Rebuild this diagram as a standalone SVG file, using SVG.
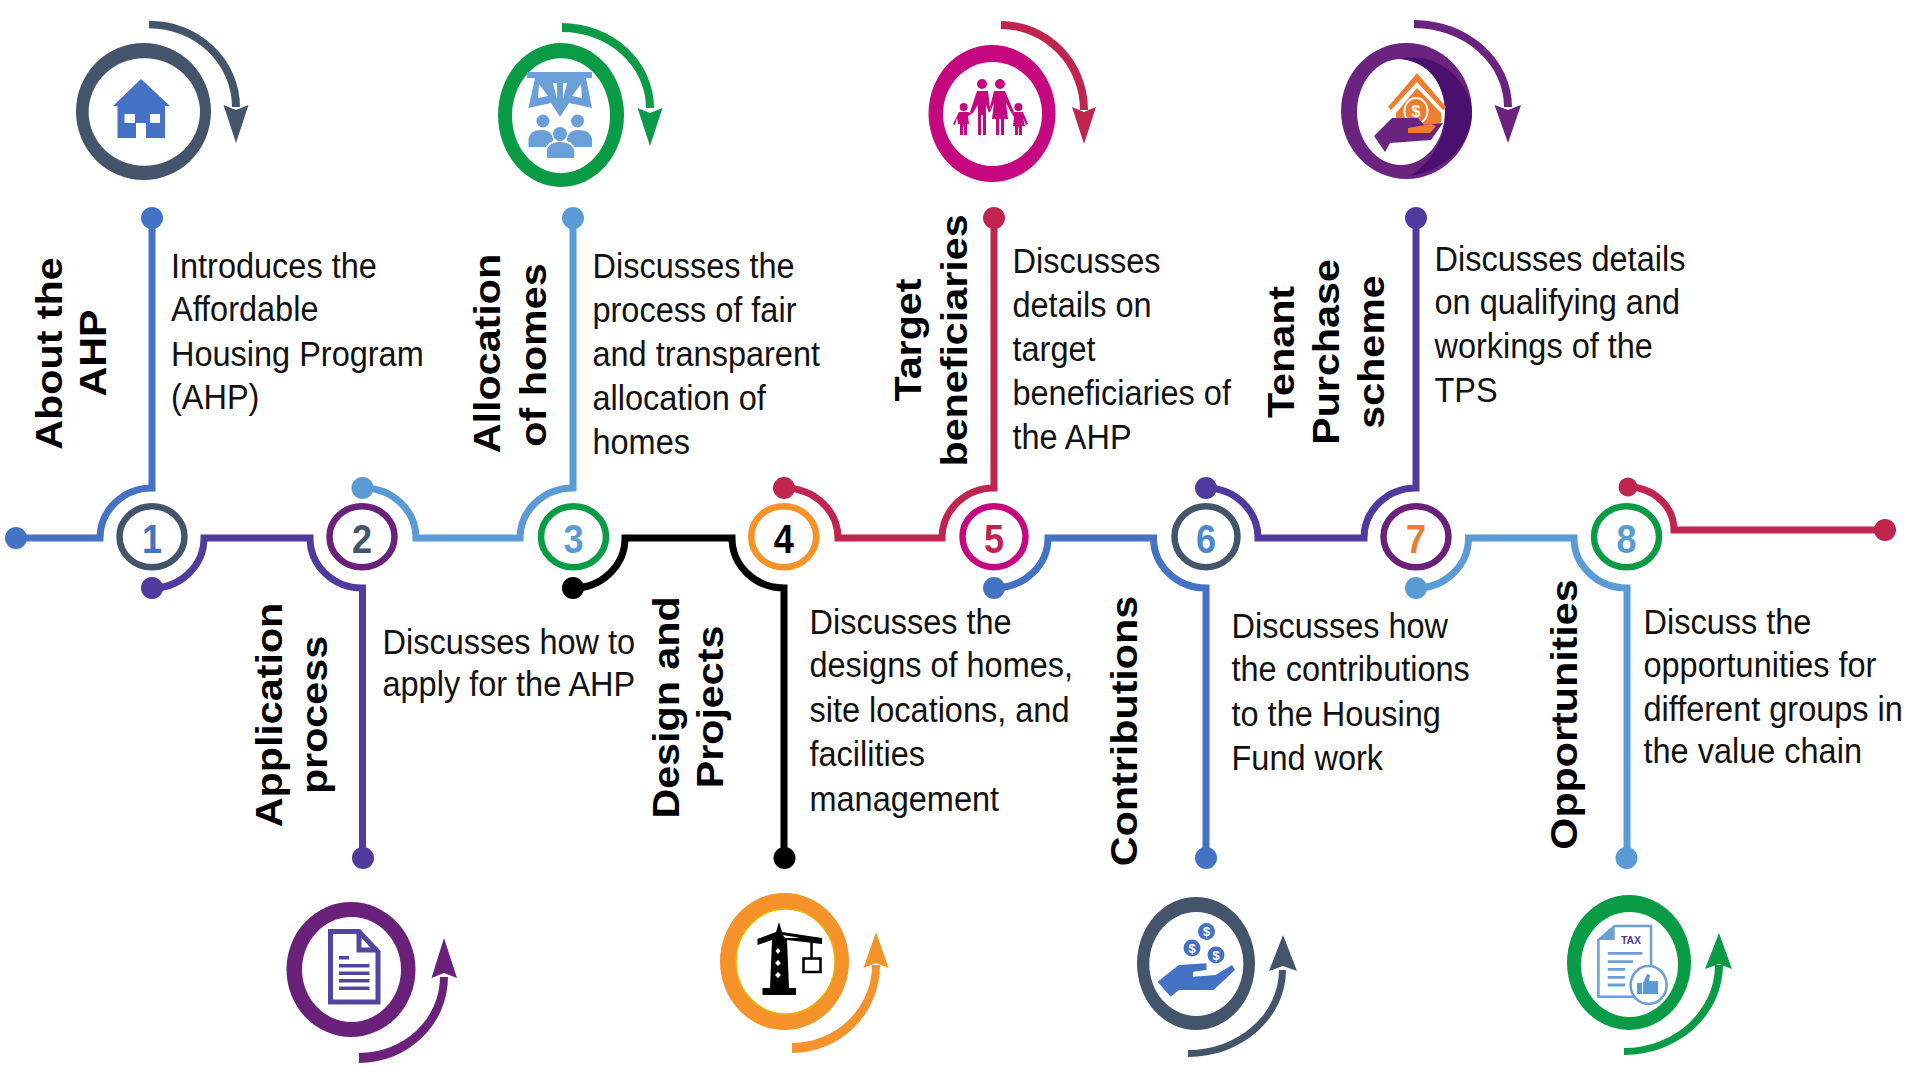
<svg xmlns="http://www.w3.org/2000/svg" width="1920" height="1080" viewBox="0 0 1920 1080">
<style>
.b{font-family:"Liberation Sans",Arial,sans-serif;font-size:35.5px;fill:#111}
.l{font-family:"Liberation Sans",Arial,sans-serif;font-size:37.5px;font-weight:700;fill:#000;text-anchor:middle}
.n{font-family:"Liberation Sans",Arial,sans-serif;font-size:40px;font-weight:700;text-anchor:middle}
.c{fill:none;stroke-width:7}
.sr{fill:#fff;stroke-width:6.5}
.w{fill:#fff}
.navy{fill:#44546a}.green{fill:#0a9b47}.mag{fill:#c5087f}.pur{fill:#6a2179}.org{fill:#f5922a}.cri{fill:#c0254f}
.blue{fill:#4472c4}.sky{fill:#6a9fd8}.ind{fill:#5246a3}
.coin{font-family:"Liberation Sans",Arial,sans-serif;font-size:13px;font-weight:700;fill:#fff;text-anchor:middle}
</style>
<rect width="1920" height="1080" fill="#fff"/>
<g id="connectors">
<g fill="#4472c4"><path class="c" stroke="#4472c4" d="M16,538H100A52,50 0 0 1 152,488V218"/><circle cx="16" cy="538" r="11"/><circle cx="152" cy="218" r="11"/></g>
<g fill="#4f3a9e"><path class="c" stroke="#4f3a9e" d="M152,588A52,50 0 0 0 204,538H310A52,50 0 0 0 362.500,588V858"/><circle cx="152" cy="588" r="11"/><circle cx="363" cy="858" r="11"/></g>
<g fill="#5b9bd5"><path class="c" stroke="#5b9bd5" d="M362.500,488A53,50 0 0 1 416,538H520A53,50 0 0 1 573,488V218"/><circle cx="362.500" cy="488" r="11"/><circle cx="573" cy="218" r="11"/></g>
<g fill="#000"><path class="c" stroke="#000" d="M573,588A52,50 0 0 0 625,538H732A52,50 0 0 0 784,588V858"/><circle cx="573" cy="588" r="11"/><circle cx="784.500" cy="858" r="11"/></g>
<g fill="#c0254f"><path class="c" stroke="#c0254f" d="M784,488A54,50 0 0 1 838,538H942A52,50 0 0 1 994,488V218"/><circle cx="784" cy="488" r="11"/><circle cx="994" cy="218" r="11"/></g>
<g fill="#4472c4"><path class="c" stroke="#4472c4" d="M994,588A54,50 0 0 0 1048,538H1153.500A52.500,50 0 0 0 1206,588V858"/><circle cx="994" cy="588" r="11"/><circle cx="1206" cy="858" r="11"/></g>
<g fill="#4f3a9e"><path class="c" stroke="#4f3a9e" d="M1206,488A52,50 0 0 1 1258,538H1364A52,50 0 0 1 1416,488V218"/><circle cx="1206" cy="488" r="11"/><circle cx="1416" cy="218" r="11"/></g>
<g fill="#5b9bd5"><path class="c" stroke="#5b9bd5" d="M1416,588A52.500,50 0 0 0 1468.500,538H1574A53,50 0 0 0 1627,588V858"/><circle cx="1416" cy="588" r="11"/><circle cx="1626.500" cy="858" r="11"/></g>
<g fill="#c0254f"><path class="c" stroke="#c0254f" d="M1628,487A46,43 0 0 1 1674,530H1885"/><circle cx="1628" cy="487" r="9.500"/><circle cx="1885" cy="530" r="11"/></g>
</g>

<g id="node1">
<ellipse class="navy" cx="143.500" cy="111.500" rx="67.500" ry="68.500"/><ellipse class="w" cx="144.300" cy="112" rx="55.700" ry="53.800"/>
<path class="blue" d="M141,79L170,106H165V138H146V123H136V138H117.500V106H113Z"/><rect class="w" x="124.500" y="114" width="10.500" height="9"/><rect class="w" x="150" y="114" width="10" height="9"/>
<path class="navy" d="M149,20.700A91,86.300 0 0 1 240,107H232A83,78.700 0 0 0 149,28.300ZM236,143L223.500,105L236,110L248.500,105Z"/>
<ellipse class="sr" stroke="#44546a" cx="152" cy="536.700" rx="32.500" ry="30.500"/><text class="n" fill="#4472c4" transform="translate(152 553) scale(.9 1)">1</text>
<text class="l" transform="translate(62 353.500) rotate(-90) scale(1.1 1)">About the</text><text class="l" transform="translate(106 353) rotate(-90) scale(1.1 1)">AHP</text>
<text class="b" transform="translate(171 277.500) scale(.915 1)"><tspan x="0" y="0">Introduces the</tspan><tspan x="0" y="44">Affordable</tspan><tspan x="0" y="88.500">Housing Program</tspan><tspan x="0" y="132">(AHP)</tspan></text>
</g>

<g id="node2">
<ellipse class="pur" cx="351" cy="969.500" rx="64.500" ry="67.500"/><ellipse class="w" cx="351.500" cy="969.500" rx="49.500" ry="52.500"/>
<path fill="none" stroke="#5246a3" stroke-width="5" d="M330.500,931.500H359L378,952V1002H330.500ZM359,931.500V950H378"/>
<path class="ind" d="M339,956h10v3.500h-10zM339,964h30.500v3.500h-30.500zM339,971.500h30.500v3.500h-30.500zM339,979h30.500v3.500h-30.500zM339,986.500h30.500v3.500h-30.500z"/>
<path class="pur" d="M359,1063A89,86 0 0 0 448,977H440A81,76 0 0 1 359,1053ZM444,938L431.500,978L444,973L457,978Z"/>
<ellipse class="sr" stroke="#6a2179" cx="362" cy="536.700" rx="32.500" ry="30.500"/><text class="n" fill="#44546a" transform="translate(362 553) scale(.9 1)">2</text>
<text class="l" transform="translate(281.500 715) rotate(-90) scale(1.1 1)">Application</text><text class="l" transform="translate(326.500 715) rotate(-90) scale(1.1 1)">process</text>
<text class="b" transform="translate(382.500 653.500) scale(.915 1)"><tspan x="0" y="0">Discusses how to</tspan><tspan x="0" y="42.500">apply for the AHP</tspan></text>
</g>

<g id="node3">
<ellipse class="green" cx="561" cy="115" rx="63" ry="72"/><ellipse class="w" cx="561" cy="115.700" rx="49" ry="57.500"/>
<path class="sky" d="M527,72H592V78H586L592,108L569,103L560,117L551,103L528.500,108L535,78H527Z"/>
<path class="w" d="M539,84L548,96L538,98ZM553,83L557,83L557,99ZM563,83L567,83L563,99ZM581,84L582,98L572,96Z"/>
<circle class="sky" cx="543" cy="121" r="6.500"/><circle class="sky" cx="577.500" cy="121" r="6.500"/>
<path class="sky" d="M528.500,147V139Q530,130 541,130Q552,130 553,139V147ZM567,147V139Q568,130 579,130Q590,130 592,139V147Z"/>
<path class="sky" stroke="#fff" stroke-width="2" d="M546,159V150Q548,141 560,141Q572,141 575,150V159Z"/><circle class="sky" cx="560" cy="134" r="7"/>
<path class="green" d="M562,23A92,85 0 0 1 654,108H646A84,76 0 0 0 562,32ZM650,146L637.500,108L650,113L662.500,108Z"/>
<ellipse class="sr" stroke="#0a9b47" cx="573.500" cy="536.700" rx="32.500" ry="30.500"/><text class="n" fill="#5b9bd5" transform="translate(573.500 553) scale(.9 1)">3</text>
<text class="l" transform="translate(499.500 353.500) rotate(-90) scale(1.1 1)">Allocation</text><text class="l" transform="translate(545.500 355) rotate(-90) scale(1.1 1)">of homes</text>
<text class="b" transform="translate(592.500 277.500) scale(.915 1)"><tspan x="0" y="0">Discusses the</tspan><tspan x="0" y="44.300">process of fair</tspan><tspan x="0" y="88.500">and transparent</tspan><tspan x="0" y="132.800">allocation of</tspan><tspan x="0" y="177">homes</tspan></text>
</g>

<g id="node4">
<ellipse class="org" cx="784.500" cy="961.500" rx="64.500" ry="68.500"/><ellipse fill="#fff" stroke="#e8b400" stroke-width="1.500" cx="785.500" cy="961.500" rx="49.500" ry="52.500"/>
<path fill="#000" d="M779,922L782,932L822,938V944L787,940L789,988H796V995H762.500V988H770L772,940L757.500,945V939L776,932Z"/>
<path class="w" d="M778,948l2.500,3l-2.500,3l-2.500,-3zM778,960l3,3l-3,3l-3,-3zM778,972l3,3l-3,3l-3,-3zM783,935L800,938L785,938Z"/>
<path stroke="#000" stroke-width="2.500" fill="none" d="M811.500,942V958M803.500,958.500H820.500V972H803.500Z"/>
<path class="org" d="M792,1053A88,88 0 0 0 880,965H872A80,78 0 0 1 792,1043ZM876,932L863.500,968L876,963L888.500,968Z"/>
<ellipse class="sr" stroke="#f5922a" cx="783.700" cy="536.700" rx="32.500" ry="30.500"/><text class="n" fill="#000" transform="translate(783.700 553) scale(.9 1)">4</text>
<text class="l" transform="translate(678.500 707.500) rotate(-90) scale(1.1 1)">Design and</text><text class="l" transform="translate(723 707) rotate(-90) scale(1.1 1)">Projects</text>
<text class="b" transform="translate(809.500 633.500) scale(.915 1)"><tspan x="0" y="0">Discusses the</tspan><tspan x="0" y="44">designs of homes,</tspan><tspan x="0" y="89">site locations, and</tspan><tspan x="0" y="133">facilities</tspan><tspan x="0" y="178">management</tspan></text>
</g>

<g id="node5">
<ellipse class="mag" cx="992" cy="113.500" rx="63.500" ry="68.500"/><ellipse class="w" cx="992.500" cy="114" rx="49.500" ry="52"/>
<g class="mag"><circle cx="982" cy="84" r="5"/><circle cx="1000" cy="84" r="5"/><circle cx="963.700" cy="107" r="4"/><circle cx="1018.400" cy="107" r="4"/>
<path d="M977,91H988L990,108L991,110L989,113L986,105V135H983V115H981V135H978V105L972,114L970,112Z"/>
<path d="M994,91H1005L1014,112L1012,114L1006,103L1008,119H1004V135H1001V119H999V135H996V119H992L994,103L991,110L990,107Z"/>
<path d="M959,112H968L972,113L970,115L968,116L969,124H967V135H964V126H963V135H960V124H958L957,118L955,125L953,124Z"/>
<path d="M1014,112H1023L1028,124L1026,125L1023,118L1025,126H1022V135H1019V127H1018V135H1015V126H1013L1014,117L1012,114Z"/></g>
<path class="cri" d="M1001,21A87,89 0 0 1 1088,110H1080A79,81 0 0 0 1001,29ZM1084,144L1072,107L1084,112L1096,107Z"/>
<ellipse class="sr" stroke="#c5087f" cx="994" cy="536.700" rx="31.500" ry="30.500"/><text class="n" fill="#c0254f" transform="translate(994 553) scale(.9 1)">5</text>
<text class="l" transform="translate(921 340) rotate(-90) scale(1.1 1)">Target</text><text class="l" transform="translate(967 340.500) rotate(-90) scale(1.1 1)">beneficiaries</text>
<text class="b" transform="translate(1012.500 273) scale(.915 1)"><tspan x="0" y="0">Discusses</tspan><tspan x="0" y="44">details on</tspan><tspan x="0" y="88.500">target</tspan><tspan x="0" y="132">beneficiaries of</tspan><tspan x="0" y="176">the AHP</tspan></text>
</g>

<g id="node6">
<ellipse class="navy" cx="1196" cy="963.500" rx="59" ry="66.500"/><ellipse class="w" cx="1196.300" cy="964" rx="47" ry="52"/>
<g class="blue"><circle cx="1206.500" cy="931.500" r="8.500"/><circle cx="1192" cy="948" r="8.500"/><circle cx="1216" cy="955" r="8.500"/>
<path d="M1157.600,981.700L1178.800,965L1206.500,963.300V970L1193,971.700V976.700L1215.500,975L1232,965L1235,970L1213.500,990H1178.800L1170.600,996.700Z"/></g>
<text class="coin" x="1206.500" y="936">$</text><text class="coin" x="1192" y="952.500">$</text><text class="coin" x="1216" y="959.500">$</text>
<path class="navy" d="M1188,1057A98,87 0 0 0 1286,970H1279A91,80 0 0 1 1188,1050ZM1283,935L1269,971L1283,966L1297,971Z"/>
<ellipse class="sr" stroke="#44546a" cx="1206" cy="536.700" rx="31.500" ry="30.500"/><text class="n" fill="#4f86d0" transform="translate(1206 553) scale(.9 1)">6</text>
<text class="l" transform="translate(1137 731) rotate(-90) scale(1.1 1)">Contributions</text>
<text class="b" transform="translate(1231.500 637.500) scale(.915 1)"><tspan x="0" y="0">Discusses how</tspan><tspan x="0" y="44">the contributions</tspan><tspan x="0" y="88.500">to the Housing</tspan><tspan x="0" y="132.500">Fund work</tspan></text>
</g>

<g id="node7">
<ellipse fill="#6a2480" cx="1406.500" cy="111" rx="65.500" ry="68"/><ellipse class="w" cx="1401" cy="112" rx="44" ry="53"/>
<path fill="#4a1070" d="M1400,59C1440,50 1472,85 1472,113C1472,145 1445,170 1410,176C1435,160 1446,135 1445,112C1445,85 1430,62 1400,59Z"/>
<path fill="#ed7d31" d="M1417,73L1446,107L1443,110L1417,82L1391,110L1388,107Z"/>
<path fill="#ed7d31" d="M1417,88L1441,113V122L1432,132H1408L1396,122V113Z"/>
<ellipse fill="none" stroke="#fff" stroke-width="2" cx="1416" cy="111" rx="11.500" ry="13"/>
<text class="coin" x="1416" y="116.500" style="font-size:16px">$</text>
<path fill="#6a2480" d="M1374,136L1392,118H1418L1424,125L1443,123L1431,140L1390,143L1385,152Z"/>
<path fill="#ed7d31" d="M1408,128L1431,124L1436,126L1430,133H1408Z"/>
<path fill="#6a2480" d="M1414,20A98,87 0 0 1 1512,107H1504A90,79 0 0 0 1414,28ZM1508,143L1494.500,105L1508,110L1521,105Z"/>
<ellipse class="sr" stroke="#6a2179" cx="1416" cy="536.700" rx="32.500" ry="30.500"/><text class="n" fill="#ed7d31" transform="translate(1416 553) scale(.9 1)">7</text>
<text class="l" transform="translate(1293.500 352) rotate(-90) scale(1.1 1)">Tenant</text><text class="l" transform="translate(1339 352) rotate(-90) scale(1.1 1)">Purchase</text><text class="l" transform="translate(1383.500 352) rotate(-90) scale(1.1 1)">scheme</text>
<text class="b" transform="translate(1434.500 270.500) scale(.915 1)"><tspan x="0" y="0">Discusses details</tspan><tspan x="0" y="44">on qualifying and</tspan><tspan x="0" y="88">workings of the</tspan><tspan x="0" y="132">TPS</tspan></text>
</g>

<g id="node8">
<ellipse class="green" cx="1629" cy="962.500" rx="62" ry="67.500"/><ellipse class="w" cx="1629.500" cy="964.500" rx="48.500" ry="52.500"/>
<path fill="#fff" stroke="#6a9fd8" stroke-width="2.500" d="M1614.700,926H1651V996.700H1598.400V940Z"/><path class="sky" d="M1598.400,940H1614.700V926Z"/>
<path fill="none" stroke="#6a9fd8" stroke-width="2.800" d="M1607.700,953.300H1642.400M1607.700,961.700H1633M1607.700,969.300H1625M1607.700,977.300H1625M1607.700,985H1625"/>
<text x="1631" y="944" font-family="'Liberation Sans',Arial,sans-serif" font-size="10.500" font-weight="700" fill="#4f3a9e" text-anchor="middle">TAX</text>
<ellipse fill="#fff" stroke="#6a9fd8" stroke-width="2.500" cx="1648.600" cy="985" rx="18" ry="19"/>
<path fill="#5b9bd5" d="M1637,983h5v11h-5zM1643,983L1647,974L1650,975L1649,981H1658V994H1643Z"/>
<path class="green" d="M1624,1055A99,90 0 0 0 1723,965H1715A91,83 0 0 1 1624,1048ZM1719,933L1705,969L1719,964L1732,969Z"/>
<ellipse class="sr" stroke="#0a9b47" cx="1626.500" cy="536.700" rx="32.500" ry="30.500"/><text class="n" fill="#5b9bd5" transform="translate(1626.500 553) scale(.9 1)">8</text>
<text class="l" transform="translate(1576.500 714.500) rotate(-90) scale(1.1 1)">Opportunities</text>
<text class="b" transform="translate(1643.500 633.500) scale(.915 1)"><tspan x="0" y="0">Discuss the</tspan><tspan x="0" y="43.500">opportunities for</tspan><tspan x="0" y="87.500">different groups in</tspan><tspan x="0" y="130">the value chain</tspan></text>
</g>
</svg>
